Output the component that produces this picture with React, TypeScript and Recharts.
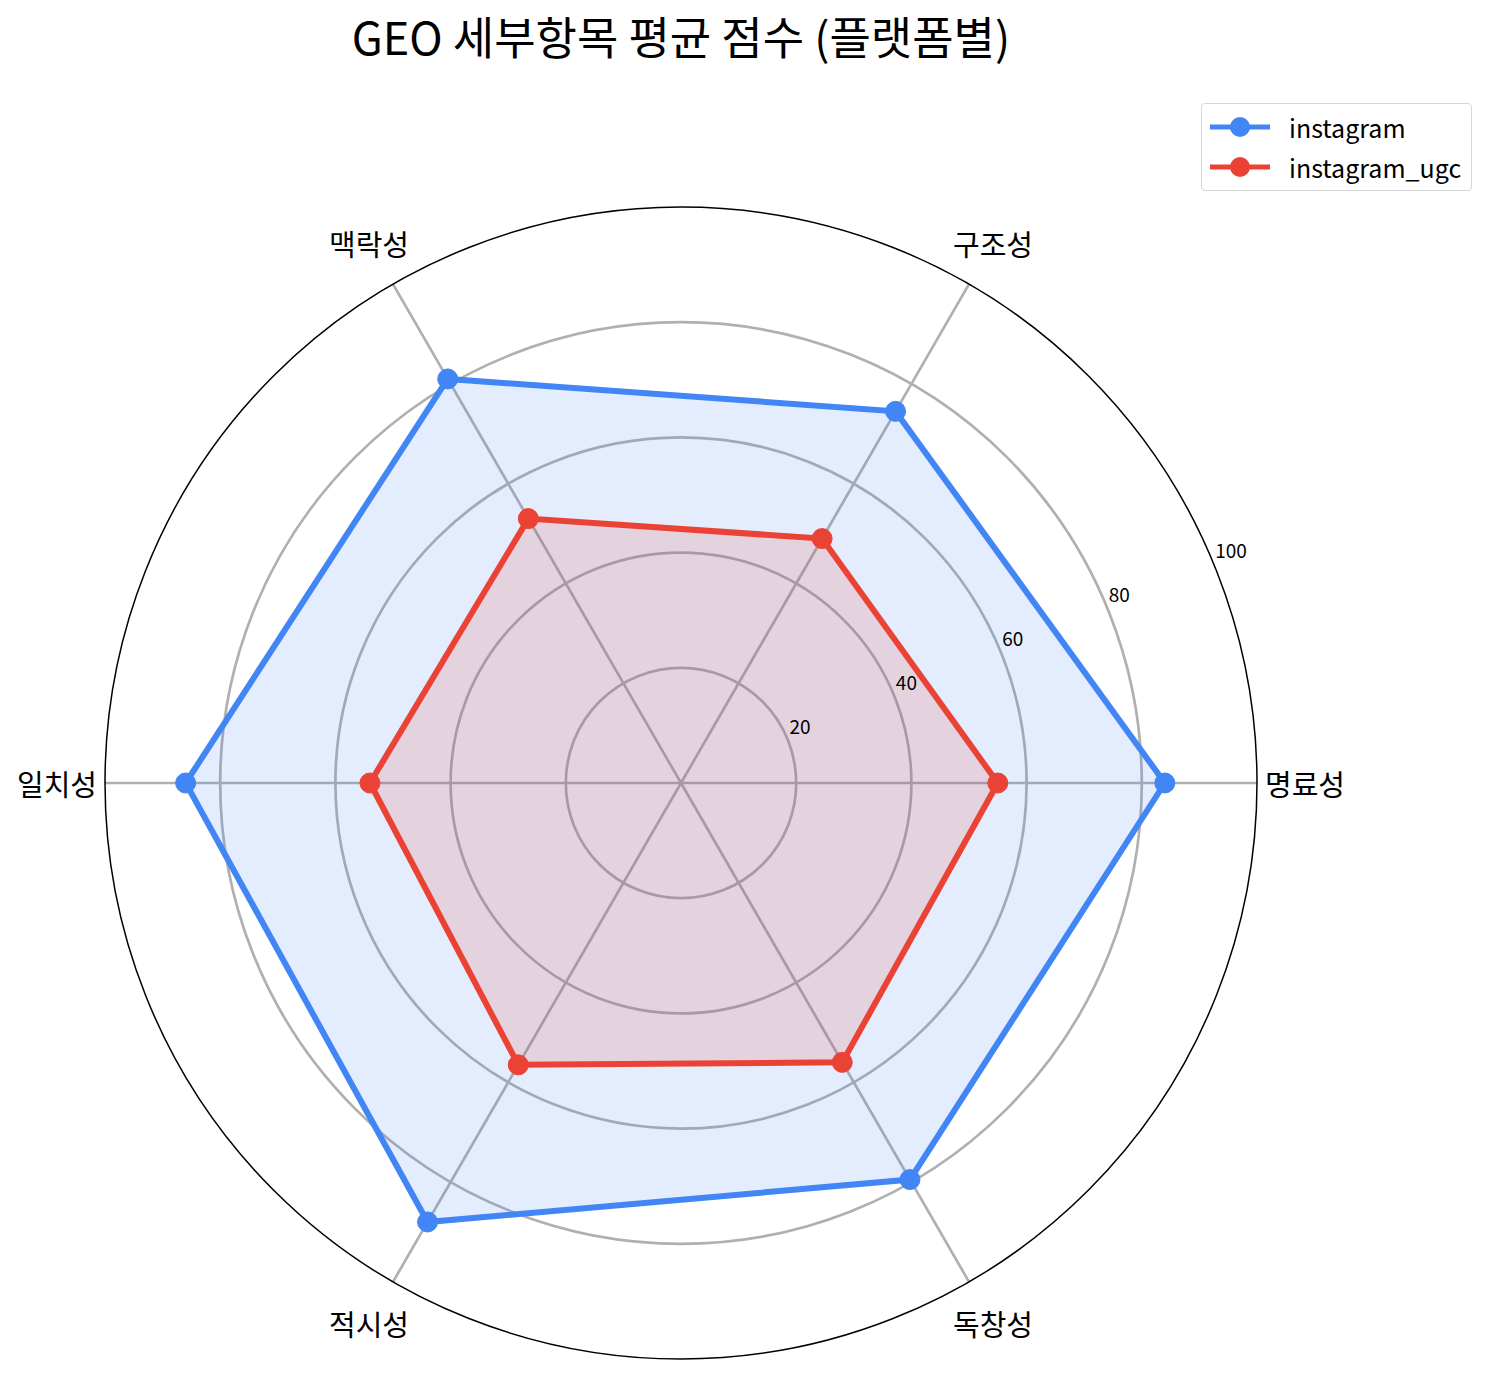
import React from "react";
import { RadarChart, Radar, PolarGrid, PolarAngleAxis, PolarRadiusAxis, Legend } from "recharts";

const categories = ["명료성", "구조성", "맥락성", "일치성", "적시성", "독창성"];
const instagram = [84, 74.5, 81, 86, 88, 79.5];
const instagramUgc = [55, 49, 53, 54, 56.5, 56];
const radiusTicks = [20, 40, 60, 80, 100];

const CX = 681;
const CY = 783;
const OUTER = 576;
const FONT = "'Noto Sans CJK KR', 'Noto Sans', sans-serif";

const BLUE = "#4285F4";
const RED = "#EA4335";

// recharts lays category angles out clockwise, so feed them in reverse
// (first item stays at 0deg) to get the counter-clockwise order of the original
const order = categories.map((_, i) => (categories.length - i) % categories.length);
const data = order.map((i) => ({
  name: categories[i],
  instagram: instagram[i],
  instagram_ugc: instagramUgc[i],
}));

const series = [
  { key: "instagram", color: BLUE },
  { key: "instagram_ugc", color: RED },
];

function AngleTick(props: any) {
  const { payload } = props;
  const rad = (-payload.coordinate * Math.PI) / 180;
  const r = OUTER + 48;
  return (
    <text
      x={CX + r * Math.cos(rad)}
      y={CY + r * Math.sin(rad)}
      textAnchor="middle"
      dominantBaseline="central"
      fontFamily={FONT}
      fontSize={29}
      fill="#000"
    >
      {payload.value}
    </text>
  );
}

function RadiusTick(props: any) {
  const { x, y, payload } = props;
  return (
    <text x={x + 2} y={y - 13} textAnchor="start" dominantBaseline="central" fontFamily={FONT} fontSize={19} fill="#000">
      {payload.value}
    </text>
  );
}

function LegendBox() {
  return (
    <div
      style={{
        border: "1px solid #d6d6d6",
        borderRadius: 4,
        padding: "3px 10px 3px 8px",
        background: "#fff",
        fontFamily: FONT,
        fontSize: 25,
      }}
    >
      {series.map((s) => (
        <div key={s.key} style={{ display: "flex", alignItems: "center", height: 40 }}>
          <svg width={60} height={24} style={{ marginRight: 19 }}>
            <line x1={0} y1={12} x2={60} y2={12} stroke={s.color} strokeWidth={5} />
            <circle cx={30} cy={12} r={10} fill={s.color} />
          </svg>
          <span style={{ color: "#000", whiteSpace: "nowrap" }}>{s.key}</span>
        </div>
      ))}
    </div>
  );
}

export default function App() {
  return (
    <div style={{ position: "absolute", left: 0, top: 0, width: 1491, height: 1375, background: "#fff" }}>
      <div
        style={{
          position: "absolute",
          left: 0,
          top: 6,
          width: 1362,
          textAlign: "center",
          fontFamily: FONT,
          fontSize: 45,
          lineHeight: "60px",
          color: "#000",
        }}
      >
        GEO 세부항목 평균 점수 (플랫폼별)
      </div>
      <RadarChart
        width={1491}
        height={1375}
        data={data}
        cx={CX}
        cy={CY}
        outerRadius={OUTER}
        startAngle={0}
        endAngle={-360}
        margin={{ top: 0, right: 0, bottom: 0, left: 0 }}
      >
        {/* fills first, grid on top of them, outlines + markers last */}
        {series.map((s) => (
          <Radar
            key={s.key + "-fill"}
            dataKey={s.key}
            stroke="none"
            fill={s.color}
            fillOpacity={0.15}
            dot={false}
            legendType="none"
            isAnimationActive={false}
          />
        ))}
        <PolarGrid
          gridType="circle"
          stroke="#b0b0b0"
          strokeWidth={2.7}
          polarRadius={radiusTicks.slice(0, -1).map((t) => (t / 100) * OUTER)}
        />
        <PolarGrid gridType="circle" stroke="#000" strokeWidth={1.5} radialLines={false} polarRadius={[OUTER]} />
        <PolarAngleAxis dataKey="name" tick={<AngleTick />} tickLine={false} axisLine={false} />
        <PolarRadiusAxis
          angle={22.5}
          domain={[0, 100]}
          ticks={radiusTicks}
          tick={<RadiusTick />}
          axisLine={false}
          tickLine={false}
        />
        {series.map((s) => (
          <Radar
            key={s.key}
            name={s.key}
            dataKey={s.key}
            stroke={s.color}
            strokeWidth={6}
            fill="none"
            dot={{ r: 10, fill: s.color, stroke: s.color, strokeWidth: 1, fillOpacity: 1 }}
            isAnimationActive={false}
          />
        ))}
        <Legend
          content={<LegendBox />}
          layout="vertical"
          verticalAlign="top"
          align="right"
          wrapperStyle={{ position: "absolute", left: 1201, top: 103, width: "auto" }}
        />
      </RadarChart>
    </div>
  );
}
